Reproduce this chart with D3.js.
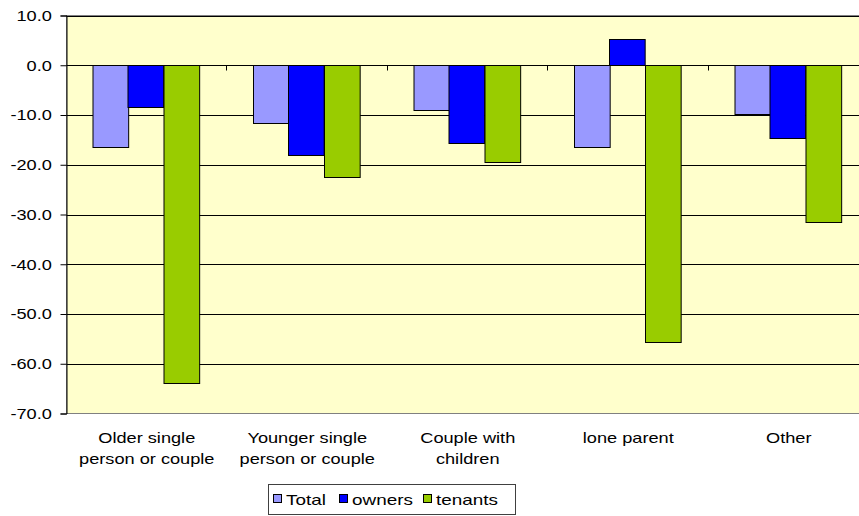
<!DOCTYPE html>
<html>
<head>
<meta charset="utf-8">
<script src="https://cdn.jsdelivr.net/npm/d3@7"></script>
<style>
  html, body { margin: 0; padding: 0; background: #ffffff; }
  svg { display: block; }
  text { font-family: "Liberation Sans", Arial, sans-serif; fill: #000; }
</style>
</head>
<body>
<svg id="chart" width="859" height="516"></svg>
<script>
// Household types on the category axis (each entry is the wrapped label lines)
const categories = ["Older single person or couple", "Younger single person or couple", "Couple with children", "lone parent", "Other"];
const categoryLines = [["Older single", "person or couple"], ["Younger single", "person or couple"], ["Couple with", "children"], ["lone parent"], ["Other"]];

// Series
const seriesNames = ["Total", "owners", "tenants"];
const seriesColors = ["#9999FF", "#0000FF", "#99CC00"];
const totalValues = [-16.5, -11.7, -9.1, -16.5, -9.9];
const ownersValues = [-8.4, -18.1, -15.6, 5.3, -14.6];
const tenantsValues = [-64.0, -22.6, -19.4, -55.6, -31.6];

// Value axis ticks
const yTicks = [10, 0, -10, -20, -30, -40, -50, -60, -70];

const seriesValues = [totalValues, ownersValues, tenantsValues];
const svg = d3.select("#chart");

const plot = { left: 66.5, right: 869, top: 15.5, bottom: 413.5 };
const axisScale = 1.3;     // horizontal stretch of axis lettering
const legendScale = 1.35;  // horizontal stretch of legend lettering

const x0 = d3.scaleBand().domain(categories).range([plot.left, plot.right]).paddingInner(0).paddingOuter(0);
const x1 = d3.scaleBand().domain(seriesNames).range([0, x0.bandwidth()]).paddingInner(0).paddingOuter(0.75);
const y = d3.scaleLinear().domain([-70, 10]).range([plot.bottom, plot.top]);
const color = d3.scaleOrdinal().domain(seriesNames).range(seriesColors);

// Plot area background
svg.append("rect")
  .attr("x", plot.left).attr("y", plot.top)
  .attr("width", plot.right - plot.left).attr("height", plot.bottom - plot.top)
  .attr("fill", "#FFFFCC").attr("stroke", "#808080").attr("stroke-width", 1);

// Horizontal gridlines
svg.append("g").selectAll("line").data(yTicks.filter(d => d !== -70)).join("line")
  .attr("x1", plot.left).attr("x2", plot.right)
  .attr("y1", d => Math.round(y(d)) + 0.5).attr("y2", d => Math.round(y(d)) + 0.5)
  .attr("stroke", "#000").attr("stroke-width", 1);

// Category axis ticks at the zero line, between categories
svg.append("g").selectAll("line").data(categories.slice(1)).join("line")
  .attr("x1", d => Math.round(x0(d)) - 0.5).attr("x2", d => Math.round(x0(d)) - 0.5)
  .attr("y1", Math.round(y(0)) + 0.5).attr("y2", Math.round(y(0)) + 5.5)
  .attr("stroke", "#000").attr("stroke-width", 1);

// Bars
const rows = categories.map((c, i) => ({ cat: c, vals: seriesNames.map((s, j) => ({ s, v: seriesValues[j][i] })) }));
svg.append("g").selectAll("g").data(rows).join("g")
  .attr("transform", d => `translate(${x0(d.cat)},0)`)
  .selectAll("rect").data(d => d.vals).join("rect")
  .attr("x", d => Math.round(x1(d.s)) - 0.5)
  .attr("y", d => Math.round(y(Math.max(0, d.v))) + 0.5)
  .attr("width", x1.bandwidth())
  .attr("height", d => Math.round(Math.abs(y(d.v) - y(0))))
  .attr("fill", d => color(d.s))
  .attr("stroke", "#000").attr("stroke-width", 1);

// Value axis
const yAxis = svg.append("g")
  .attr("transform", `translate(${plot.left},0)`)
  .call(d3.axisLeft(y).tickValues(yTicks).tickSize(6).tickPadding(0).tickFormat(d => d.toFixed(1)));
yAxis.select(".domain").attr("stroke", "#000");
yAxis.selectAll(".tick line").attr("stroke", "#000");
yAxis.selectAll(".tick text")
  .attr("x", -11.3).attr("dy", "0.35em")
  .attr("transform", `scale(${axisScale},1)`)
  .style("font-size", "14px").style("font-family", "'Liberation Sans', Arial, sans-serif").attr("fill", "#000");

// Category labels
const catLabels = svg.append("g").selectAll("g").data(categories).join("g")
  .attr("transform", d => `translate(${x0(d) + x0.bandwidth() / 2},0)`);
catLabels.each(function (d, i) {
  categoryLines[i].forEach((line, k) => {
    d3.select(this).append("text")
      .attr("text-anchor", "middle")
      .attr("transform", `translate(0,${442.5 + k * 21}) scale(${axisScale},1)`)
      .style("font-size", "14px")
      .text(line);
  });
});

// Legend
const legend = svg.append("g");
legend.append("rect")
  .attr("x", 268.5).attr("y", 484.5).attr("width", 247).attr("height", 30)
  .attr("fill", "#fff").attr("stroke", "#404040").attr("stroke-width", 1);
const legendX = [273, 339, 423];
seriesNames.forEach((s, i) => {
  legend.append("rect")
    .attr("x", legendX[i] + 0.5).attr("y", 494.5).attr("width", 8).attr("height", 8)
    .attr("fill", color(s)).attr("stroke", "#000").attr("stroke-width", 1);
  legend.append("text")
    .attr("transform", `translate(${legendX[i] + 13},504.5) scale(${legendScale},1)`)
    .style("font-size", "14px")
    .text(s);
});
</script>
</body>
</html>
